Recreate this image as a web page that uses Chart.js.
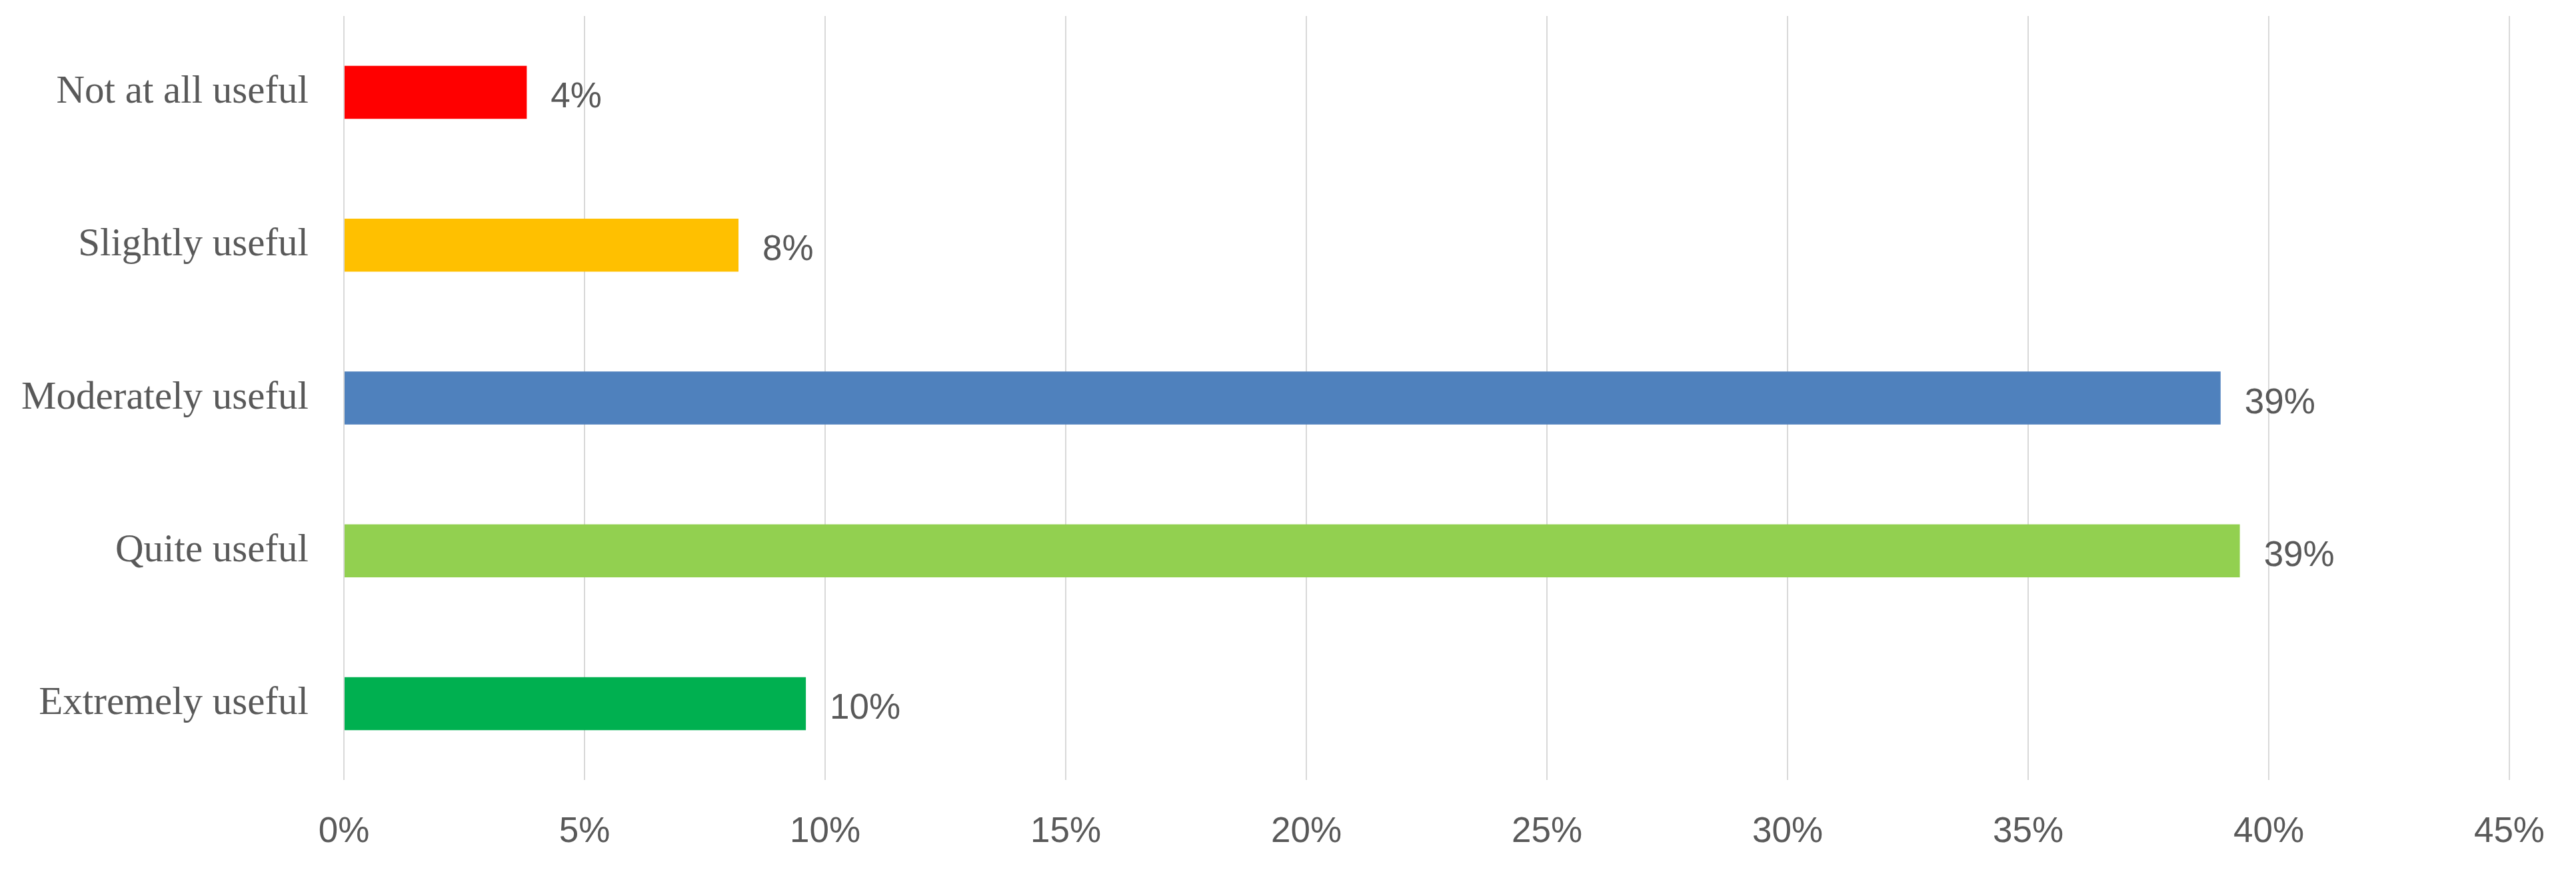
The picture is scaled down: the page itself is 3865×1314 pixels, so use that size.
<!DOCTYPE html>
<html>
<head>
<meta charset="utf-8">
<script src="https://cdn.jsdelivr.net/npm/chart.js@4"></script>
<style>
  html, body { margin: 0; padding: 0; background: #ffffff; }
  #wrap { width: 3865px; height: 1314px; position: relative; }
</style>
</head>
<body>
<div id="wrap"><canvas id="c" width="3865" height="1314"></canvas></div>
<script>
const categories = ["Not at all useful", "Slightly useful", "Moderately useful", "Quite useful", "Extremely useful"];
const values = [3.8, 8.2, 39.0, 39.4, 9.6];
const valueLabels = ["4%", "8%", "39%", "39%", "10%"];
const barColors = ["#FF0000", "#FFC000", "#4F81BD", "#92D050", "#00B050"];
const xTickValues = [0, 5, 10, 15, 20, 25, 30, 35, 40, 45];

const valueLabelPlugin = {
  id: 'valueLabels',
  afterDatasetsDraw(chart) {
    const ctx = chart.ctx;
    const meta = chart.getDatasetMeta(0);
    ctx.save();
    ctx.font = '53px "Liberation Sans", Arial, sans-serif';
    ctx.fillStyle = '#595959';
    ctx.textAlign = 'left';
    ctx.textBaseline = 'middle';
    meta.data.forEach((bar, i) => {
      ctx.fillText(valueLabels[i], bar.x + 36, bar.y + 8);
    });
    ctx.restore();
  }
};

new Chart(document.getElementById('c'), {
  type: 'bar',
  data: {
    labels: categories,
    datasets: [{
      data: values,
      backgroundColor: barColors,
      borderWidth: 0,
      barPercentage: 0.347,
      categoryPercentage: 1.0
    }]
  },
  options: {
    indexAxis: 'y',
    responsive: false,
    animation: false,
    devicePixelRatio: 1,
    layout: { padding: { top: 24, right: 50, left: 16, bottom: 0 } },
    plugins: {
      legend: { display: false },
      tooltip: { enabled: false }
    },
    scales: {
      x: {
        type: 'linear',
        min: 0,
        max: 45,
        afterBuildTicks(scale) {
          scale.ticks = xTickValues.map(v => ({ value: v }));
        },
        grid: { color: '#D9D9D9', lineWidth: 2, drawTicks: false },
        border: { display: false },
        ticks: {
          padding: 47,
          color: '#595959',
          font: { family: '"Liberation Sans", Arial, sans-serif', size: 53 },
          callback: (v) => v + '%'
        },
        afterFit(scale) { scale.height = 1314 - 1170; }
      },
      y: {
        grid: { display: false, drawTicks: false },
        border: { display: false },
        ticks: {
          padding: 53,
          color: '#595959',
          font: { family: '"Liberation Serif", "Times New Roman", serif', size: 59 }
        },
        afterFit(scale) {
          scale.width = 500;
          scale.paddingTop = 0;
          scale.paddingBottom = 0;
        }
      }
    }
  },
  plugins: [valueLabelPlugin]
});
</script>
</body>
</html>
